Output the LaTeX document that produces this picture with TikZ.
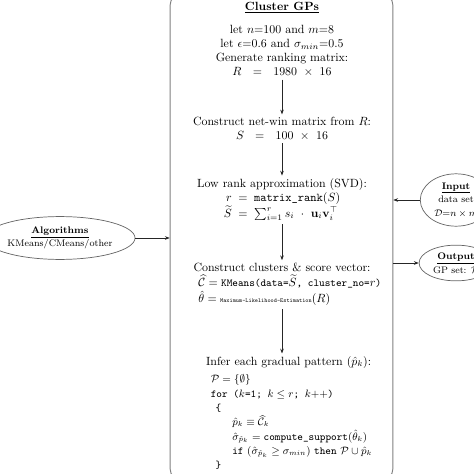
\documentclass[tikz,border=0pt]{standalone}
\usepackage{amsmath,amssymb}
\usetikzlibrary{positioning,arrows.meta,shapes.geometric}
\tikzset{
  flow/.style={->,>={Stealth[length=4pt,width=3pt]},draw=black!85,line width=0.5pt},
  blk/.style={align=center,inner sep=2pt},
  side/.style={ellipse,draw=black!60,line width=0.6pt,inner sep=0pt,align=center,font=\footnotesize},
}
\begin{document}
\begin{tikzpicture}[x=0.84pt,y=-0.84pt,on grid]
  \useasboundingbox (0,0) rectangle (474,474);
  \clip (0,0) rectangle (474,474);
  \node[draw=black!50,line width=0.8pt,rounded corners=9pt,minimum width=187pt,minimum height=408pt] (cluster) at (281.5,237) {};
  \node[blk] (head) at (282,8) {\underline{\textbf{Cluster GPs}}};
  \node[blk] (init) [below=36pt of head] {let $n$=100 and $m$=8\\ let $\epsilon$=0.6 and $\sigma_{min}$=0.5\\ Generate ranking matrix:\\ $R\ \ =\ \ 1980\ \times\ 16$};
  \node[blk] (netwin) [below=65.5pt of init] {Construct net-win matrix from $R$:\\ $S\ \ =\ \ 100\ \times\ 16$};
  \node[blk] (svd) [below=59.6pt of netwin] {Low rank approximation (SVD):\\
    $\begin{array}{@{}r@{\;\;=\;\;}l@{}} r & \texttt{matrix\_rank}(S)\\ \widetilde{S} & \sum_{i=1}^{r} s_i\ \cdot\ \mathbf{u}_i\mathbf{v}_i^{\top}\end{array}$};
  \node[blk] (clusters) [below=71.4pt of svd] {Construct clusters \& score vector:\\[2pt]
    \hspace*{13pt}\begin{tabular}{@{}l@{}}
      $\widehat{\mathcal{C}}=\texttt{\small KMeans(data=}\widetilde{S}\texttt{\small , cluster\_no=}r\texttt{\small )}$\\
      $\hat{\theta}=\texttt{\tiny Maximum-Likelihood-Estimation}(R)$
    \end{tabular}};
  \node[blk,align=left,font=\small] (infer) [below=107.5pt of clusters,xshift=6pt] {\normalsize Infer each gradual pattern ($\hat{p}_k$):\\[4pt]
    \hspace*{4pt}$\mathcal{P}=\{\emptyset\}$\\[1pt]
    \hspace*{4pt}\texttt{for (}$k$\texttt{=1; }$k\leq r$\texttt{; }$k$++\texttt{)}\\[1pt]
    \hspace*{8pt}\texttt{\{}\\[1pt]
    \hspace*{22pt}$\hat{p}_k\equiv\widehat{\mathcal{C}}_k$\\[1pt]
    \hspace*{22pt}$\hat{\sigma}_{\hat{p}_k}=\texttt{compute\_support}(\hat{\theta}_k)$\\[1pt]
    \hspace*{22pt}\texttt{if} $(\hat{\sigma}_{\hat{p}_k}\geq\sigma_{min})$ \texttt{then} $\mathcal{P}\cup\hat{p}_k$\\[1pt]
    \hspace*{8pt}\texttt{\}}};
  \node[side,minimum width=126pt,minimum height=36pt] (algo) at (60,238) {\underline{\textbf{Algorithms}}\\[2pt] KMeans/CMeans/other};
  \node[side,minimum width=60pt,minimum height=44pt] (input) at (456,200) {\underline{\textbf{Input}}\\[2pt] data set\\[2pt] $\mathcal{D}{=}n\times m$};
  \node[side,minimum width=62pt,minimum height=30pt] (output) at (456,263) {\underline{\textbf{Output}}\\[2pt] GP set: $\mathcal{P}$};
  \draw[flow] (init) -- (netwin);
  \draw[flow] (netwin) -- (svd);
  \draw[flow] (svd) -- (clusters);
  \draw[flow] (clusters) -- (clusters |- infer.north);
  \draw[flow] (algo) -- (algo -| cluster.west);
  \draw[flow] (input) -- (input -| cluster.east);
  \draw[flow] (output -| cluster.east) -- (output);
\end{tikzpicture}
\end{document}
